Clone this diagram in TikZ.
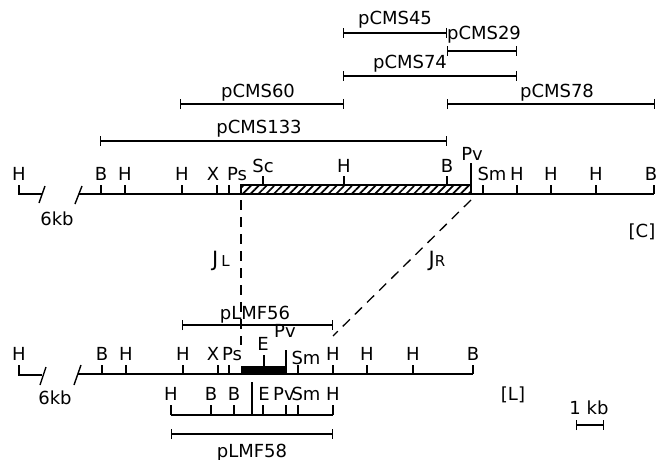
\documentclass[tikz,border=0pt]{standalone}
\usepackage{fontspec}
\setmainfont{DejaVu Sans}
\usetikzlibrary{arrows.meta,patterns.meta}

\begin{document}
\begin{tikzpicture}[
  x=1pt, y=-1pt, font=\fontsize{18}{20}\selectfont,
  map/.style={line width=1.4pt},
  site/.style={inner sep=0pt, anchor=base},
  clone/.style={line width=1.3pt, {Bar[width=10pt,line width=1.3pt]}-{Bar[width=10pt,line width=1.3pt]}},
  junction/.style={line width=1.3pt, dash pattern=on 10pt off 7pt},
]
\useasboundingbox (0,0) rectangle (659,460);

% clones on the [C] map
\foreach \a/\b/\y/\lx/\ly/\t in {343/447/33/395/25/pCMS45, 343/517/76/410/69/pCMS74,
    180/344/104/258/97/pCMS60, 447/655/104/557/97/pCMS78, 100/447/141/259/133/pCMS133}
{
  \draw[clone] (\a,\y) -- (\b,\y);
  \node[site] (\t) at (\lx,\ly) {\t};
}
\draw[clone, line width=2.2pt] (447,51) -- (517,51);
\node[site] (pCMS29) at (484,40) {pCMS29};

% [C] map
\draw[map] (19,185) -- (19,194) -- (42,194);
\draw[map] (39,203) -- (45,186);
\draw[map] (75,204) -- (82,186);
\draw[map] (79,194) -- (654,194);
\foreach \x in {101,125,182,217,229,483,517,551,596,654}
  \draw[map] (\x,194) -- (\x,185);
\draw[map, pattern={Lines[angle=45,distance=5.5pt,line width=1.7pt]}] (241,185) rectangle (471,194);
\foreach \x in {263,344,447}
  \draw[map] (\x,185) -- (\x,176);
\draw[map] (471,194) -- (471,163);
\foreach \x/\t [count=\i] in {19/H,101/B,125/H,182/H,213/X,237/Ps,492/Sm,517/H,551/H,596/H,651/B}
  \node[site] (c\i) at (\x,180) {\t};
\node[site] (cSc) at (263,172) {Sc};
\node[site] (cH) at (344,172) {H};
\node[site] (cB) at (447,172) {B};
\node[site] (cPv) at (472,160) {Pv};
\node[site] (c6kb) at (57,225) {6kb};
\node[site] (C) at (642,237) {[C]};

% junctions
\coordinate (cJL) at (241,200);
\coordinate (lJL) at (241,345);
\coordinate (cJR) at (471,200);
\coordinate (lJR) at (333,336);
\draw[junction] (cJL) -- (lJL);
\draw[junction] (cJR) -- (lJR);
\node[site] (JL) at (221,266) {{\fontsize{21}{21}\selectfont J}\hspace{3pt}{\fontsize{15}{15}\selectfont L}};
\node[site] (JR) at (437,266) {{\fontsize{21}{21}\selectfont J}{\fontsize{15}{15}\selectfont R}};

% [L] map
\draw[clone] (182,325) -- (333,325);
\node[site] (pLMF56) at (255,319) {pLMF56};
\draw[map] (19,365) -- (19,375) -- (42,375);
\draw[map] (40,385) -- (46,367);
\draw[map] (74,385) -- (81,365);
\draw[map] (78,374) -- (473,374);
\foreach \x in {102,126,183,218,229,298,333,367,413,473}
  \draw[map] (\x,374) -- (\x,365);
\fill (241,366) rectangle (287,374);
\draw[map] (264,366) -- (264,355);
\draw[map] (286,374) -- (286,350);
\foreach \x/\t [count=\i] in {19/H,102/B,126/H,183/H,213/X,232/Ps,333/H,367/H,413/H,473/B}
  \node[site] (l\i) at (\x,360) {\t};
\node[site] (lE) at (263,350) {E};
\node[site] (lPv) at (285,337) {Pv};
\node[site] (lSm) at (306,364) {Sm};
\node[site] (l6kb) at (55,404) {6kb};
\node[site] (L) at (513,400) {[L]};

% pLMF58 insert
\draw[map] (171,415) -- (333,415);
\foreach \x in {171,211,234,263,286,298,333}
  \draw[map] (\x,415) -- (\x,405);
\draw[map] (252,415) -- (252,382);
\foreach \x/\t [count=\i] in {171/H,211/B,234/B,264/E,284/Pv,306/Sm,333/H}
  \node[site] (p\i) at (\x,400) {\t};
\draw[clone] (171,434) -- (333,434);
\node[site] (pLMF58) at (252,457) {pLMF58};

% scale
\draw[clone] (576,425) -- (604,425);
\node[site] (kb) at (589,414) {1 kb};
\end{tikzpicture}
\end{document}
